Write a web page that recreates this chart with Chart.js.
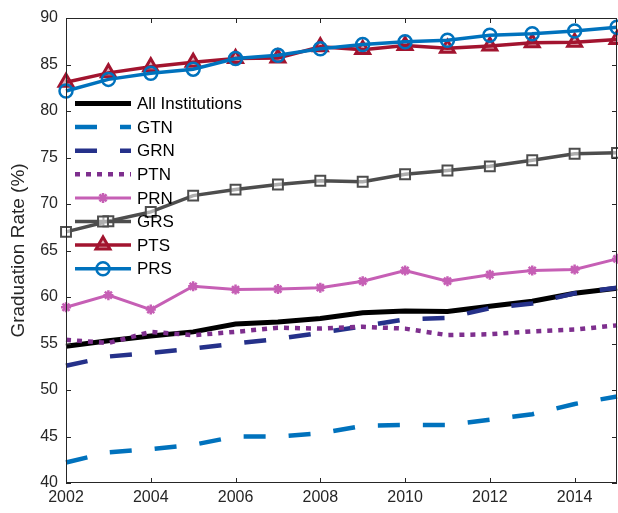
<!DOCTYPE html>
<html lang="en">
<head>
  <meta charset="UTF-8">
  <title>Graduation Rate</title>
  <script src="https://cdn.jsdelivr.net/npm/chart.js"></script>
  <style>
    * {
      margin: 0;
      padding: 0;
      box-sizing: border-box;
    }
    html, body {
      overflow: hidden;
    }
    body {
      background-color: #ffffff;
      font-family: "Liberation Sans", Arial, sans-serif;
    }
    .chart-box {
      position: relative;
      width: 618px;
      height: 513px;
    }
    .chart-box canvas {
      display: block;
    }
  </style>
</head>
<body>
  <div class="chart-box">
    <canvas id="rateChart"></canvas>
  </div>

  <script>
    // yearly graduation rates (%) per institution group
    const years = [2002, 2003, 2004, 2005, 2006, 2007, 2008, 2009, 2010, 2011, 2012, 2013, 2014, 2015];
    const allInst = [54.7, 55.3, 55.8, 56.25, 57.1, 57.3, 57.7, 58.3, 58.5, 58.45, 59.0, 59.55, 60.4, 60.95];
    const gtn = [42.2, 43.3, 43.65, 44.1, 45.0, 45.0, 45.35, 46.15, 46.25, 46.25, 46.8, 47.4, 48.5, 49.3];
    const grn = [52.6, 53.6, 54.0, 54.45, 55.0, 55.5, 56.15, 56.85, 57.6, 57.75, 58.8, 59.3, 60.4, 61.0];
    const ptn = [55.4, 55.05, 56.25, 55.9, 56.25, 56.7, 56.6, 56.8, 56.6, 55.9, 56.0, 56.3, 56.5, 56.95];
    const prn = [58.9, 60.2, 58.65, 61.15, 60.8, 60.85, 61.0, 61.7, 62.85, 61.7, 62.4, 62.85, 62.95, 64.1];
    const grs = [67.0, 68.15, 69.15, 70.9, 71.55, 72.1, 72.5, 72.4, 73.2, 73.6, 74.05, 74.7, 75.4, 75.5];
    const pts = [83.1, 84.1, 84.75, 85.25, 85.65, 85.7, 86.9, 86.6, 87.05, 86.75, 87.0, 87.35, 87.4, 87.7];
    const prs = [82.15, 83.4, 84.05, 84.5, 85.65, 86.0, 86.7, 87.15, 87.45, 87.6, 88.15, 88.3, 88.6, 89.0];

    const xTicks = [2002, 2004, 2006, 2008, 2010, 2012, 2014];
    const yTicks = [40, 45, 50, 55, 60, 65, 70, 75, 80, 85, 90];

    const axisColor = '#262626';

    function pts2d(values) {
      return years.map((x, i) => ({ x: x, y: values[i] }));
    }

    function series(label, values, style) {
      return Object.assign({
        label: label,
        data: pts2d(values),
        borderWidth: 3,
        borderDash: [],
        pointRadius: 0,
        pointStyle: 'circle',
        pointBorderWidth: 2.5,
        pointBackgroundColor: 'rgba(0,0,0,0)',
        tension: 0,
        fill: false,
        clip: false,
        borderCapStyle: 'butt'
      }, style);
    }

    const datasets = [
      series('All Institutions', allInst, { borderColor: '#000000', borderWidth: 5 }),
      series('GTN', gtn, { borderColor: '#0072bd', borderWidth: 4.5, borderDash: [22, 23] }),
      series('GRN', grn, { borderColor: '#25318a', borderWidth: 4.5, borderDash: [22, 23] }),
      series('PTN', ptn, { borderColor: '#7e2f8e', borderWidth: 4.5, borderDash: [5, 6] }),
      series('PRN', prn, { borderColor: '#c65fb5', borderWidth: 3, pointStyle: 'star', pointRadius: 5, pointBorderWidth: 2.5 }),
      series('GRS', grs, { borderColor: '#4d4d4d', borderWidth: 3.5, pointStyle: 'rect', pointRadius: 7, pointBorderWidth: 2, pointBackgroundColor: 'rgba(255,255,255,0.55)' }),
      series('PTS', pts, { borderColor: '#a2142f', borderWidth: 3.5, pointStyle: 'triangle', pointRadius: 8, pointBorderWidth: 3, pointBackgroundColor: 'rgba(162,20,47,0.35)' }),
      series('PRS', prs, { borderColor: '#0072bd', borderWidth: 3.5, pointStyle: 'circle', pointRadius: 6.5, pointBorderWidth: 2.5 })
    ];
    // later series sit on top
    datasets.forEach((ds, i) => { ds.order = datasets.length - 1 - i; });

    // box around the plot with inward tick marks
    const framePlugin = {
      id: 'frame',
      afterDatasetsDraw(chart) {
        const { ctx, chartArea: a, scales } = chart;
        ctx.save();
        ctx.strokeStyle = axisColor;
        ctx.lineWidth = 1;
        ctx.setLineDash([]);
        ctx.strokeRect(a.left + 0.5, a.top + 0.5, a.right - a.left - 1, a.bottom - a.top - 1);
        ctx.beginPath();
        xTicks.forEach(v => {
          const x = Math.round(scales.x.getPixelForValue(v)) + 0.5;
          ctx.moveTo(x, a.bottom);
          ctx.lineTo(x, a.bottom - 5);
          ctx.moveTo(x, a.top);
          ctx.lineTo(x, a.top + 5);
        });
        yTicks.forEach(v => {
          const y = Math.round(scales.y.getPixelForValue(v)) + 0.5;
          ctx.moveTo(a.left, y);
          ctx.lineTo(a.left + 5, y);
          ctx.moveTo(a.right, y);
          ctx.lineTo(a.right - 5, y);
        });
        ctx.stroke();
        ctx.restore();
      }
    };

    // legend inside the plot, no box
    const legendPlugin = {
      id: 'innerLegend',
      afterDatasetsDraw(chart) {
        const ctx = chart.ctx;
        const x0 = 75, x1 = 131, tx = 137;
        ctx.save();
        chart.data.datasets.forEach((ds, i) => {
          const y = 103.5 + i * 23.6;
          ctx.beginPath();
          ctx.setLineDash(ds.borderDash);
          ctx.lineCap = 'butt';
          ctx.lineWidth = ds.borderWidth;
          ctx.strokeStyle = ds.borderColor;
          ctx.moveTo(x0, y);
          ctx.lineTo(x1, y);
          ctx.stroke();
          if (ds.pointRadius > 0) {
            ctx.setLineDash([]);
            ctx.lineWidth = ds.pointBorderWidth;
            ctx.fillStyle = ds.pointBackgroundColor;
            Chart.helpers.drawPoint(ctx, {
              pointStyle: ds.pointStyle,
              radius: ds.pointRadius,
              rotation: 0,
              borderWidth: ds.pointBorderWidth
            }, (x0 + x1) / 2, y);
          }
          ctx.fillStyle = '#000000';
          ctx.font = '17px "Liberation Sans", Arial, sans-serif';
          ctx.textBaseline = 'middle';
          ctx.textAlign = 'left';
          ctx.fillText(ds.label, tx, y + 1);
        });
        ctx.restore();
      }
    };

    new Chart(document.getElementById('rateChart').getContext('2d'), {
      type: 'line',
      data: { datasets: datasets },
      options: {
        responsive: true,
        maintainAspectRatio: false,
        animation: false,
        layout: {
          autoPadding: false,
          padding: { top: 18, right: 1, left: 0, bottom: 0 }
        },
        plugins: {
          legend: { display: false },
          tooltip: { enabled: false }
        },
        scales: {
          x: {
            type: 'linear',
            min: 2002,
            max: 2015,
            grid: { display: false, drawTicks: false },
            border: { display: false },
            ticks: {
              padding: 5,
              color: axisColor,
              font: { size: 16, family: '"Liberation Sans", Arial, sans-serif' },
              callback: v => String(v)
            },
            afterBuildTicks: s => { s.ticks = xTicks.map(v => ({ value: v })); },
            afterFit: s => {
              s.height = 30;
              s.paddingLeft = 0;
              s.paddingRight = 0;
            }
          },
          y: {
            min: 40,
            max: 90,
            grid: { display: false, drawTicks: false },
            border: { display: false },
            ticks: {
              padding: 8,
              color: axisColor,
              font: { size: 16, family: '"Liberation Sans", Arial, sans-serif' },
              callback: v => String(v)
            },
            title: {
              display: true,
              text: 'Graduation Rate (%)',
              color: axisColor,
              font: { size: 19, family: '"Liberation Sans", Arial, sans-serif' },
              padding: { top: 7, bottom: 0 }
            },
            afterBuildTicks: s => { s.ticks = yTicks.map(v => ({ value: v })); },
            afterFit: s => {
              s.width = 66;
              s.paddingTop = 0;
              s.paddingBottom = 0;
            }
          }
        }
      },
      plugins: [framePlugin, legendPlugin]
    });
  </script>
</body>
</html>
